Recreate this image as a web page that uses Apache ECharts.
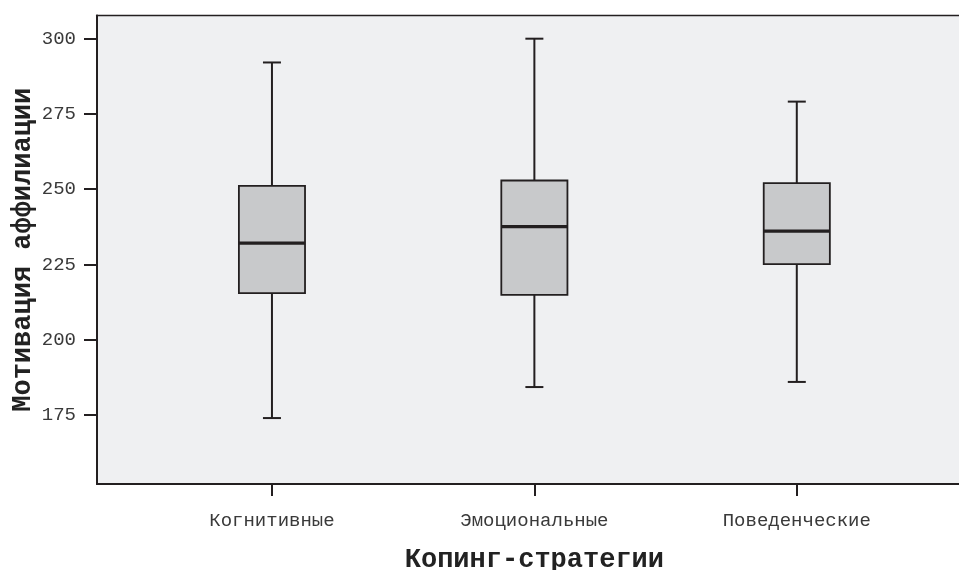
<!DOCTYPE html>
<html>
<head>
<meta charset="utf-8">
<script src="https://cdn.jsdelivr.net/npm/echarts@6/dist/echarts.min.js"></script>
<style>
html,body{margin:0;padding:0;background:#fff;}
#c{width:959px;height:570px;}
</style>
</head>
<body>
<div id="c"></div>
<script>
const categories = ['Когнитивные', 'Эмоциональные', 'Поведенческие'];
const whiskerLow = [174, 184.3, 186];
const q1 = [215.5, 214.9, 225.1];
const median = [232.1, 237.6, 236.1];
const q3 = [251.1, 252.9, 252.0];
const whiskerHigh = [292.1, 300, 279.1];
const yTicks = [175, 200, 225, 250, 275, 300];
const yMin = 152.1, yMax = 307.7;

const boxData = categories.map((c, i) => [i, whiskerLow[i], q1[i], median[i], q3[i], whiskerHigh[i]]);

const lineCol = '#231f20';
const mono = '"Liberation Mono", "DejaVu Sans Mono", monospace';

const chart = echarts.init(document.getElementById('c'));
chart.setOption({
  animation: false,
  backgroundColor: '#ffffff',
  grid: [
    { left: 97, right: -10, top: 15.5, bottom: 86, show: true, backgroundColor: '#eff0f2', borderColor: lineCol, borderWidth: 1.5, containLabel: false, outerBoundsMode: 'none' },
    { left: 140.75, right: 31, top: 15.5, bottom: 86, containLabel: false, outerBoundsMode: 'none' }
  ],
  xAxis: [
    { gridIndex: 0, type: 'value', min: 0, max: 1,
      axisLine: { show: true, lineStyle: { color: lineCol, width: 2 } },
      axisTick: { show: false }, axisLabel: { show: false }, splitLine: { show: false } },
    { gridIndex: 1, type: 'category', data: categories, boundaryGap: true,
      axisLine: { show: false },
      axisTick: { show: true, alignWithLabel: true, length: 12, lineStyle: { color: lineCol, width: 2 } },
      axisLabel: { margin: 27, fontFamily: mono, fontSize: 19, color: '#3a3a3a' },
      name: 'Копинг-стратегии', nameLocation: 'middle', nameGap: 63, nameMoveOverlap: false,
      nameTextStyle: { fontFamily: mono, fontSize: 27, fontWeight: 'bold', color: '#222' },
      splitLine: { show: false } }
  ],
  yAxis: [
    { gridIndex: 0, type: 'value', min: yMin, max: yMax,
      axisLine: { show: true, lineStyle: { color: lineCol, width: 2 } },
      axisTick: { show: true, customValues: yTicks, length: 13, lineStyle: { color: lineCol, width: 2 } },
      axisLabel: { customValues: yTicks, margin: 21, fontFamily: mono, fontSize: 19, color: '#3a3a3a' },
      splitLine: { show: false },
      name: 'Мотивация аффилиации', nameLocation: 'middle', nameGap: 60, nameMoveOverlap: false,
      nameTextStyle: { fontFamily: mono, fontSize: 27, fontWeight: 'bold', color: '#222' } },
    { gridIndex: 1, type: 'value', min: yMin, max: yMax, show: false, splitLine: { show: false } }
  ],
  series: [{
    type: 'custom',
    xAxisIndex: 1, yAxisIndex: 1,
    data: boxData,
    renderItem: function (params, api) {
      const idx = api.value(0);
      const band = api.size([1, 0])[0];
      const boxW = band * 0.252;
      const capW = 18;
      const pLow = api.coord([idx, api.value(1)]);
      const pQ1 = api.coord([idx, api.value(2)]);
      const pMed = api.coord([idx, api.value(3)]);
      const pQ3 = api.coord([idx, api.value(4)]);
      const pHigh = api.coord([idx, api.value(5)]);
      const x = pQ1[0];
      const ls = { stroke: lineCol, lineWidth: 2 };
      return {
        type: 'group',
        children: [
          { type: 'line', shape: { x1: x, y1: pHigh[1], x2: x, y2: pQ3[1] }, style: ls },
          { type: 'line', shape: { x1: x, y1: pQ1[1], x2: x, y2: pLow[1] }, style: ls },
          { type: 'line', shape: { x1: x - capW / 2, y1: pHigh[1], x2: x + capW / 2, y2: pHigh[1] }, style: ls },
          { type: 'line', shape: { x1: x - capW / 2, y1: pLow[1], x2: x + capW / 2, y2: pLow[1] }, style: ls },
          { type: 'rect', shape: { x: x - boxW / 2, y: pQ3[1], width: boxW, height: pQ1[1] - pQ3[1] },
            style: { fill: '#c8c9cb', stroke: lineCol, lineWidth: 1.8 } },
          { type: 'line', shape: { x1: x - boxW / 2, y1: pMed[1], x2: x + boxW / 2, y2: pMed[1] },
            style: { stroke: lineCol, lineWidth: 3.2 } }
        ]
      };
    }
  }]
});
</script>
</body>
</html>
